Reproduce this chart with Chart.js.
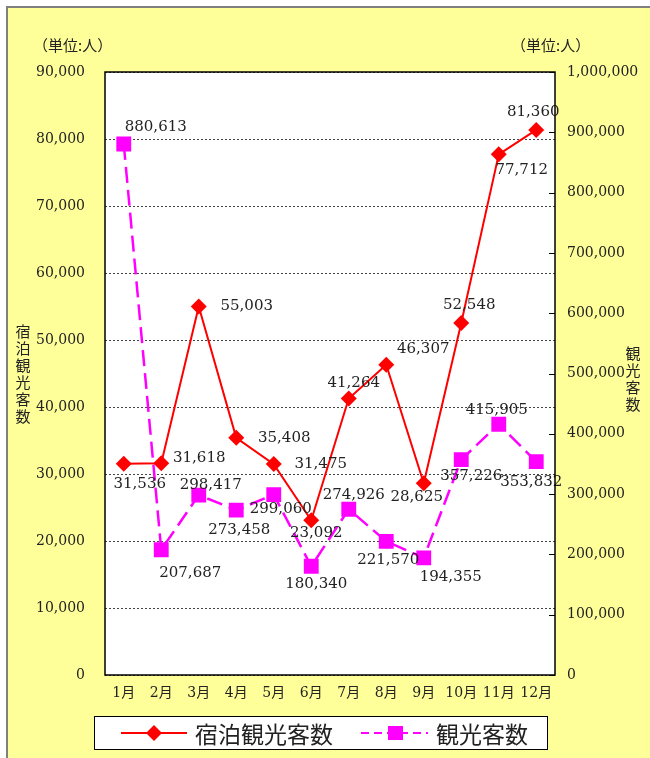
<!DOCTYPE html>
<html>
<head>
<meta charset="utf-8">
<script src="https://cdn.jsdelivr.net/npm/chart.js@4"></script>
<style>
  html, body { margin: 0; padding: 0; background: #fff; }
  canvas { display: block; }
</style>
</head>
<body>
<canvas id="visitorChart" width="650" height="758"></canvas>
<script>
// monthly figures
const months = ['1月', '2月', '3月', '4月', '5月', '6月', '7月', '8月', '9月', '10月', '11月', '12月'];
const stayVisitors = [31536, 31618, 55003, 35408, 31475, 23092, 41264, 46307, 28625, 52548, 77712, 81360];
const totalVisitors = [880613, 207687, 298417, 273458, 299060, 180340, 274926, 221570, 194355, 357226, 415905, 353832];
const leftMax = 90000, leftStep = 10000;
const rightMax = 1000000, rightStep = 100000;

// where each value label sits relative to its marker
const stayLabelOffsets = [[16, 20], [38, -5], [48, 0], [48, 0], [47, 0], [5, 13], [5, -15], [37, -16], [-7, 14], [8, -18], [23, 16], [-3, -18]];
const totalLabelOffsets = [[32, -17], [29, 23], [12, -10], [3, 20], [7, 14], [5, 18], [5, -14], [2, 19], [27, 19], [10, 17], [-2, -14], [-5, 20]];

const SERIF = "'DejaVu Serif', 'Noto Sans CJK JP', serif";
const CJK = "'Noto Sans CJK JP', sans-serif";
const fmt = v => v.toLocaleString('en-US');

const frame = {
    id: 'frame',
    beforeDraw(chart) {
        const { ctx, chartArea: a } = chart;
        ctx.save();
        ctx.fillStyle = '#ffffff';
        ctx.fillRect(0, 0, chart.width, chart.height);
        ctx.fillStyle = '#ffff99';
        ctx.fillRect(7, 7, chart.width, chart.height);
        ctx.strokeStyle = '#808080';
        ctx.lineWidth = 2;
        ctx.strokeRect(7, 7, chart.width + 10, chart.height + 10);
        ctx.fillStyle = '#ffffff';
        ctx.fillRect(a.left, a.top, a.right - a.left, a.bottom - a.top);
        ctx.restore();
    },
    afterDraw(chart) {
        const { ctx, chartArea: a } = chart;
        ctx.save();
        ctx.strokeStyle = '#000';
        ctx.lineWidth = 1.5;
        ctx.strokeRect(a.left, a.top, a.right - a.left, a.bottom - a.top);

        // inward ticks on the right axis
        const y1 = chart.scales.y1;
        ctx.lineWidth = 1;
        y1.ticks.forEach((t, i) => {
            const y = Math.round(y1.getPixelForTick(i)) + 0.5;
            ctx.beginPath();
            ctx.moveTo(a.right - 6, y);
            ctx.lineTo(a.right, y);
            ctx.stroke();
        });

        ctx.fillStyle = '#222';
        ctx.font = '15px ' + CJK;
        ctx.textAlign = 'left';
        ctx.textBaseline = 'middle';
        ctx.fillText('（単位:人）', 33, 45);
        ctx.fillText('（単位:人）', 511, 45);

        // stacked axis titles
        ctx.font = '15px ' + CJK;
        ctx.textAlign = 'center';
        ['宿', '泊', '観', '光', '客', '数'].forEach((c, i) => ctx.fillText(c, 23, 331 + i * 17));
        ['観', '光', '客', '数'].forEach((c, i) => ctx.fillText(c, 633, 353 + i * 17));

        // legend
        ctx.fillStyle = '#fff';
        ctx.fillRect(94, 716, 453, 33);
        ctx.strokeStyle = '#000';
        ctx.lineWidth = 1;
        ctx.strokeRect(94.5, 716.5, 453, 33);
        const ly = 733;
        ctx.strokeStyle = '#ff0000';
        ctx.lineWidth = 2;
        ctx.beginPath(); ctx.moveTo(121, ly); ctx.lineTo(187, ly); ctx.stroke();
        ctx.fillStyle = '#ff0000';
        ctx.beginPath();
        ctx.moveTo(154, ly - 8); ctx.lineTo(162, ly); ctx.lineTo(154, ly + 8); ctx.lineTo(146, ly);
        ctx.closePath(); ctx.fill();
        ctx.strokeStyle = '#ff00ff';
        ctx.setLineDash([8, 5]);
        ctx.beginPath(); ctx.moveTo(361, ly); ctx.lineTo(428, ly); ctx.stroke();
        ctx.setLineDash([]);
        ctx.fillStyle = '#ff00ff';
        ctx.fillRect(388, ly - 7, 15, 14);
        ctx.fillStyle = '#222';
        ctx.font = '23px ' + CJK;
        ctx.textAlign = 'left';
        ctx.fillText('宿泊観光客数', 195, ly + 1);
        ctx.fillText('観光客数', 436, ly + 1);
        ctx.restore();
    }
};

const valueLabels = {
    id: 'valueLabels',
    afterDatasetsDraw(chart) {
        const { ctx } = chart;
        const offsets = [stayLabelOffsets, totalLabelOffsets];
        ctx.save();
        ctx.font = '15px ' + SERIF;
        ctx.fillStyle = '#222';
        ctx.textAlign = 'center';
        ctx.textBaseline = 'middle';
        chart.data.datasets.forEach((ds, d) => {
            chart.getDatasetMeta(d).data.forEach((pt, i) => {
                const [dx, dy] = offsets[d][i];
                ctx.fillText(fmt(ds.data[i]), pt.x + dx, pt.y + dy);
            });
        });
        ctx.restore();
    }
};

const ctx = document.getElementById('visitorChart').getContext('2d');
const visitorChart = new Chart(ctx, {
    type: 'line',
    data: {
        labels: months,
        datasets: [{
            label: '宿泊観光客数',
            data: stayVisitors,
            yAxisID: 'y',
            borderColor: '#ff0000',
            backgroundColor: '#ff0000',
            borderWidth: 2,
            pointStyle: 'rectRot',
            pointRadius: 8,
            pointBorderWidth: 0,
            tension: 0
        }, {
            label: '観光客数',
            data: totalVisitors,
            yAxisID: 'y1',
            borderColor: '#ff00ff',
            backgroundColor: '#ff00ff',
            borderWidth: 2.5,
            borderDash: [16, 7],
            pointStyle: 'rect',
            pointRadius: 10.5,
            pointBorderWidth: 0,
            tension: 0
        }]
    },
    options: {
        responsive: false,
        animation: false,
        layout: { padding: { top: 72, bottom: 53, left: 0, right: 0 } },
        plugins: {
            legend: { display: false },
            tooltip: { enabled: false }
        },
        scales: {
            x: {
                offset: true,
                grid: { display: false, drawTicks: false },
                border: { display: false },
                ticks: {
                    color: '#222',
                    padding: 10,
                    maxRotation: 0,
                    minRotation: 0,
                    autoSkip: false,
                    font: { family: SERIF, size: 14 }
                },
                afterFit: s => { s.height = 30; }
            },
            y: {
                position: 'left',
                min: 0,
                max: leftMax,
                grid: { color: '#444', lineWidth: 1, drawTicks: false },
                border: { display: false, dash: [2, 2] },
                ticks: {
                    stepSize: leftStep,
                    padding: 20,
                    color: '#222',
                    font: { family: SERIF, size: 14 },
                    callback: v => fmt(v)
                },
                afterFit: s => { s.width = 105; }
            },
            y1: {
                position: 'right',
                min: 0,
                max: rightMax,
                grid: { drawOnChartArea: false, drawTicks: false },
                border: { display: false },
                ticks: {
                    stepSize: rightStep,
                    padding: 12,
                    color: '#222',
                    font: { family: SERIF, size: 14 },
                    callback: v => fmt(v)
                },
                afterFit: s => { s.width = 95; }
            }
        }
    },
    plugins: [frame, valueLabels]
});
</script>
</body>
</html>
